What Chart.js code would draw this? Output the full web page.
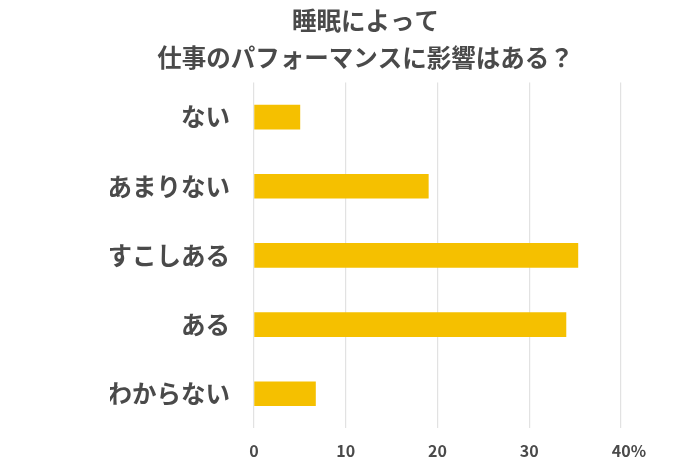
<!DOCTYPE html>
<html>
<head>
<meta charset="utf-8">
<script src="https://cdn.jsdelivr.net/npm/chart.js@4"></script>
<style>
  html, body { margin: 0; padding: 0; background: #ffffff; }
  #wrap { width: 700px; height: 467px; }
</style>
</head>
<body>
<div id="wrap"><canvas id="chart"></canvas></div>
<script>
// data (percent)
const titleLines = ['睡眠によって', '仕事のパフォーマンスに影響はある？'];
const categories = ['ない', 'あまりない', 'すこしある', 'ある', 'わからない'];
const percents = [5.0, 19.0, 35.3, 34.0, 6.7];
const tickMax = 40;
const tickStep = 10;

const textColor = '#4a4a4a';
const jpFont = '"Noto Sans CJK JP", "Noto Sans", sans-serif';

const chart = new Chart(document.getElementById('chart'), {
  type: 'bar',
  data: {
    labels: categories,
    datasets: [{
      data: percents,
      backgroundColor: '#f5c000',
      borderWidth: 0,
      barThickness: 24
    }]
  },
  options: {
    responsive: true,
    maintainAspectRatio: false,
    animation: false,
    indexAxis: 'y',
    layout: { padding: { left: 110, right: 79, top: 0, bottom: 3 } },
    plugins: {
      legend: { display: false },
      tooltip: { enabled: false },
      title: {
        display: true,
        text: titleLines,
        color: textColor,
        font: { family: jpFont, size: 24.5, weight: 'bold', lineHeight: 1.52 },
        padding: { top: 2, bottom: 6 }
      }
    },
    scales: {
      x: {
        min: 0,
        max: tickMax,
        border: { display: false },
        grid: { color: '#e2e2e2', lineWidth: 1.2, drawTicks: false },
        afterFit: (scale) => { scale.height = 32; },
        ticks: {
          stepSize: tickStep,
          padding: 13,
          maxRotation: 0,
          color: textColor,
          font: { family: jpFont, size: 16, weight: 'bold' },
          // only the last tick carries the % sign, hung to the right of the number
          callback: (v) => v === tickMax ? '\u2002\u2002' + v + '%' : v
        }
      },
      y: {
        border: { display: false },
        grid: { display: false, drawTicks: false },
        afterFit: (scale) => { scale.width = 144; },
        ticks: {
          padding: 24,
          color: textColor,
          font: { family: jpFont, size: 24.5, weight: 'bold' }
        }
      }
    }
  }
});
</script>
</body>
</html>
